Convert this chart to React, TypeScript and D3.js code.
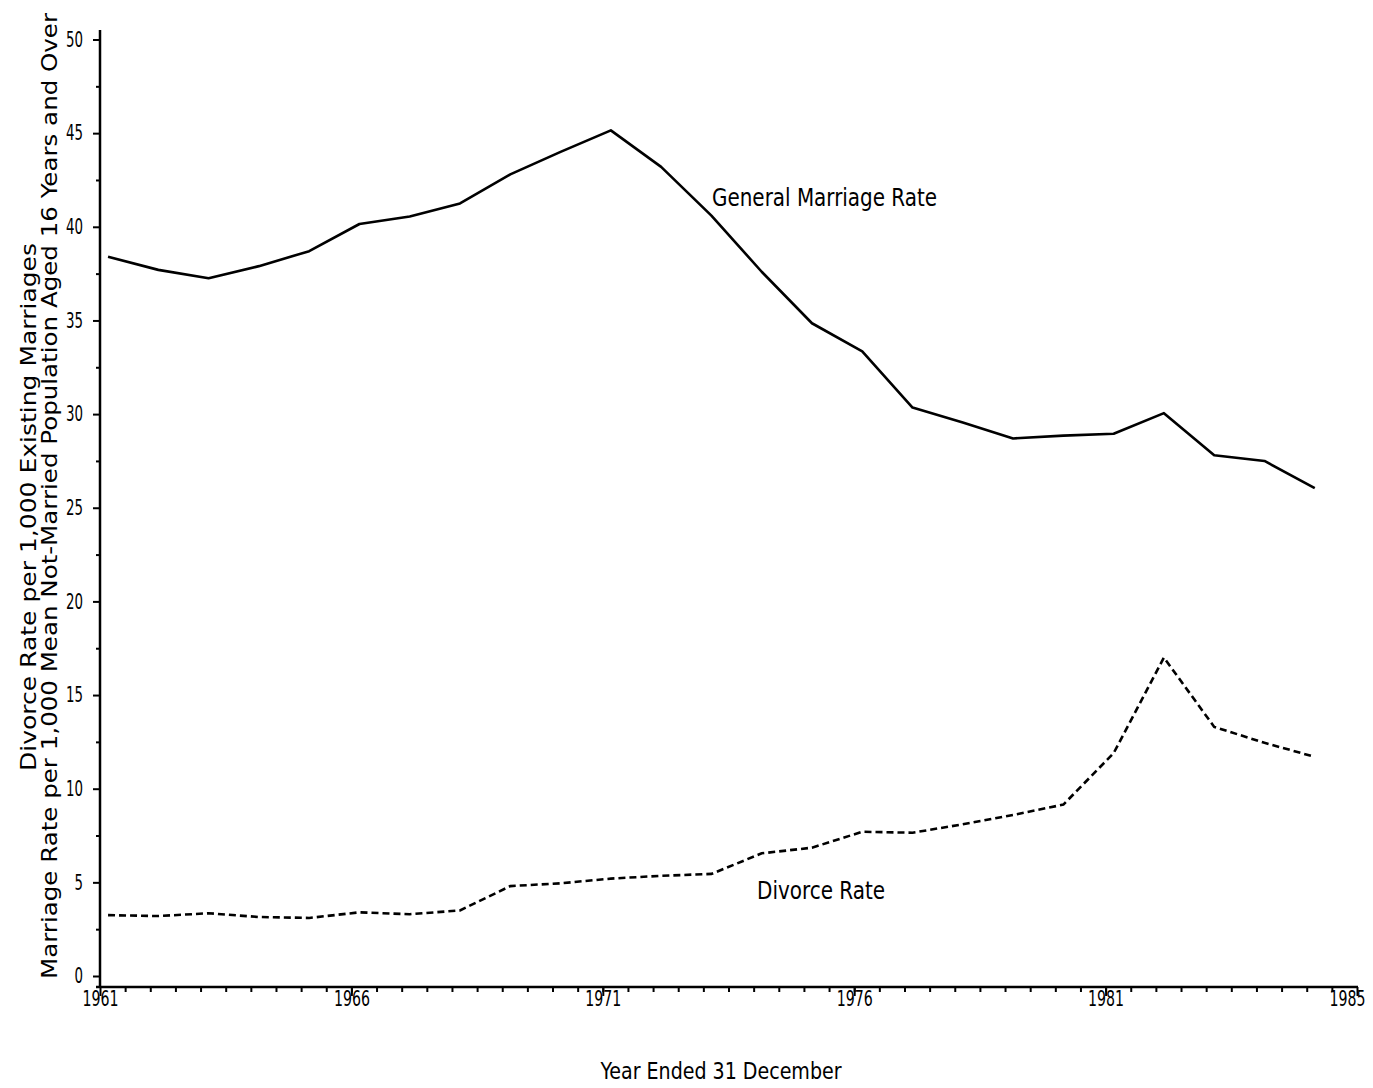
import React, { useEffect, useRef } from 'react'
import * as d3 from 'd3'

// years of the two series
const years = [
  1961, 1962, 1963, 1964, 1965, 1966, 1967, 1968, 1969, 1970, 1971, 1972, 1973,
  1974, 1975, 1976, 1977, 1978, 1979, 1980, 1981, 1982, 1983, 1984, 1985,
]

// general marriage rate per 1,000 not-married population aged 16+
const marriageRate = [
  38.4, 37.7, 37.25, 37.9, 38.7, 40.15, 40.55, 41.25, 42.8, 44.0, 45.15, 43.2, 40.6,
  37.6, 34.85, 33.35, 30.35, 29.55, 28.7, 28.85, 28.95, 30.05, 27.8, 27.5, 26.05,
]

// divorce rate per 1,000 existing marriages
const divorceRate = [
  3.25, 3.2, 3.35, 3.15, 3.1, 3.4, 3.3, 3.5, 4.8, 4.95, 5.2, 5.35, 5.45,
  6.55, 6.85, 7.7, 7.65, 8.1, 8.6, 9.15, 11.9, 17.0, 13.3, 12.45, 11.7,
]

const yTicks = [0, 5, 10, 15, 20, 25, 30, 35, 40, 45, 50]
const xTickYears = [1961, 1966, 1971, 1976, 1981, 1986]
const xTickLabels = ['1961', '1966', '1971', '1976', '1981', '1985']

const W = 1373
const H = 1088
const condensed = "'DejaVu Sans Condensed', 'DejaVu Sans', sans-serif"

export default function App() {
  const ref = useRef<SVGSVGElement>(null)

  useEffect(() => {
    const svg = d3.select(ref.current)
    svg.selectAll('*').remove()

    const x = d3.scaleLinear().domain([1961, 1986]).range([100, 1357])
    const y = d3.scaleLinear().domain([0, 50]).range([976, 39.5])
    const axisY = 987
    const plotOffset = 0.16 // values sit a little into each year

    // axis lines
    svg.append('line')
      .attr('x1', x(1961)).attr('x2', x(1961))
      .attr('y1', 30).attr('y2', axisY)
      .attr('stroke', '#000').attr('stroke-width', 2.5)
    svg.append('line')
      .attr('x1', x(1961) - 4).attr('x2', x(1986) + 1)
      .attr('y1', axisY).attr('y2', axisY)
      .attr('stroke', '#000').attr('stroke-width', 2.5)

    // y axis, major + minor ticks
    const gy = svg.append('g').attr('transform', `translate(${x(1961)},0)`)
    gy.call(d3.axisLeft(y).tickValues(yTicks).tickSize(7).tickPadding(10)
      .tickFormat(d => String(d)))
    gy.append('g').call(d3.axisLeft(y).tickValues(d3.range(2.5, 50, 5)).tickSize(4)
      .tickFormat(() => ''))
    gy.selectAll('.domain').remove()
    gy.selectAll('line').attr('stroke-width', 2)
    gy.selectAll('text')
      .attr('font-family', condensed).attr('font-stretch', 'condensed')
      .attr('font-size', 21).attr('fill', '#000')
      .attr('lengthAdjust', 'spacingAndGlyphs')
      .attr('textLength', function () { return (this as SVGTextElement).textContent!.length * 8.5 })

    // x axis, major + half-year minor ticks
    const gx = svg.append('g').attr('transform', `translate(0,${axisY})`)
    gx.call(d3.axisBottom(x).tickValues(xTickYears).tickSize(9)
      .tickFormat((d, i) => xTickLabels[i]))
    gx.append('g').call(d3.axisBottom(x).tickValues(d3.range(1961.5, 1986, 0.5)).tickSize(5)
      .tickFormat(() => ''))
    gx.selectAll('.domain').remove()
    gx.selectAll('line').attr('stroke-width', 2)
    gx.selectAll('text')
      .attr('y', 4)
      .attr('font-family', condensed).attr('font-stretch', 'condensed')
      .attr('font-size', 21).attr('fill', '#000')
      .attr('lengthAdjust', 'spacingAndGlyphs').attr('textLength', 36)
    gx.selectAll('text').filter((d) => d === 1986)
      .attr('text-anchor', 'end').attr('dx', 8)

    // lines
    const line = (vals: number[]) => d3.line<number>()
      .x((d, i) => x(years[i] + plotOffset))
      .y(d => y(d))(vals)

    svg.append('path')
      .attr('d', line(marriageRate))
      .attr('fill', 'none').attr('stroke', '#000').attr('stroke-width', 2.6)
      .attr('stroke-linejoin', 'round')

    svg.append('path')
      .attr('d', line(divorceRate))
      .attr('fill', 'none').attr('stroke', '#000').attr('stroke-width', 2.6)
      .attr('stroke-dasharray', '7,4')

    // series labels
    svg.append('text')
      .attr('x', 712).attr('y', 206)
      .attr('font-family', condensed).attr('font-stretch', 'condensed')
      .attr('font-size', 24).attr('textLength', 225).attr('lengthAdjust', 'spacingAndGlyphs')
      .text('General Marriage Rate')
    svg.append('text')
      .attr('x', 757).attr('y', 899)
      .attr('font-family', condensed).attr('font-stretch', 'condensed')
      .attr('font-size', 24).attr('textLength', 128).attr('lengthAdjust', 'spacingAndGlyphs')
      .text('Divorce Rate')

    // axis titles
    svg.append('text')
      .attr('x', 721).attr('y', 1079)
      .attr('text-anchor', 'middle')
      .attr('font-family', condensed).attr('font-stretch', 'condensed')
      .attr('font-size', 23)
      .attr('textLength', 241).attr('lengthAdjust', 'spacingAndGlyphs')
      .text('Year Ended 31 December')

    svg.append('text')
      .attr('transform', 'translate(57,496) rotate(-90)')
      .attr('text-anchor', 'middle')
      .attr('font-family', "'DejaVu Sans', sans-serif")
      .attr('font-size', 21).attr('textLength', 966).attr('lengthAdjust', 'spacingAndGlyphs')
      .text('Marriage Rate per 1,000 Mean Not-Married Population Aged 16 Years and Over')

    svg.append('text')
      .attr('transform', 'translate(36,507) rotate(-90)')
      .attr('text-anchor', 'middle')
      .attr('font-family', "'DejaVu Sans', sans-serif")
      .attr('font-size', 21).attr('textLength', 528).attr('lengthAdjust', 'spacingAndGlyphs')
      .text('Divorce Rate per 1,000 Existing Marriages')
  }, [])

  return (
    <svg
      ref={ref}
      width={W}
      height={H}
      style={{ position: 'absolute', left: 0, top: 0, background: '#fff' }}
    />
  )
}
